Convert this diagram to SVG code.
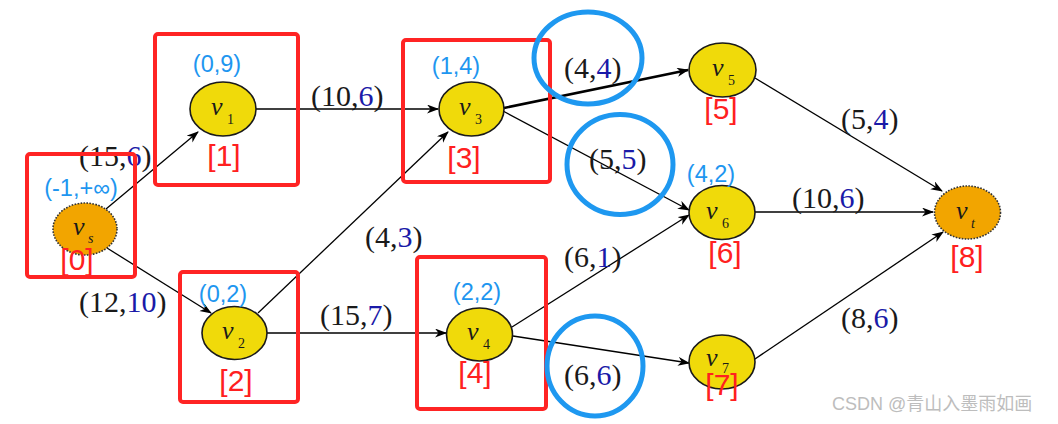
<svg xmlns="http://www.w3.org/2000/svg" width="1058" height="424" viewBox="0 0 1058 424">
<defs>
<marker id="arr" markerWidth="12" markerHeight="10" refX="11" refY="4.5" orient="auto" markerUnits="userSpaceOnUse">
<path d="M0,0 L12,4.5 L0,9 L3.5,4.5 z" fill="#000"/>
</marker>
<style>
.e{stroke:#000;stroke-width:1.3;fill:none;marker-end:url(#arr)}
.n{fill:#F0DA0A;stroke:#1a1a1a;stroke-width:1.6}
.s{fill:#F2A500;stroke:#333;stroke-width:1.6;stroke-dasharray:1.6 1.4}
.v{font-family:"Liberation Serif",serif;font-style:italic;font-size:26px;fill:#1a1a1a}
.sub{font-family:"Liberation Serif",serif;font-size:14px;fill:#1a1a1a}
.subi{font-family:"Liberation Serif",serif;font-style:italic;font-size:14px;fill:#1a1a1a}
.el{font-family:"Liberation Serif",serif;font-size:30px;fill:#1a1a1a}
.b{fill:#1a1aa8}
.nl{font-family:"Liberation Sans",sans-serif;font-size:23.5px;fill:#1E96F0;text-anchor:middle}
.ix{font-family:"Liberation Sans",sans-serif;font-size:30px;fill:#FF2020;text-anchor:middle}
.box{fill:none;stroke:#FF2424;stroke-width:4}
.c{fill:none;stroke:#1E98F0;stroke-width:5}
</style>
</defs>
<rect width="1058" height="424" fill="#fff"/>
<g id="connectors">
<line class="e" x1="106" y1="209" x2="198" y2="132"/>
<line class="e" x1="107" y1="248" x2="211" y2="313"/>
<line class="e" x1="256" y1="109" x2="438" y2="109"/>
<line class="e" x1="258" y1="313" x2="448" y2="132"/>
<line class="e" x1="267" y1="333" x2="446" y2="333"/>
<line class="e" x1="504" y1="108" x2="688" y2="70" style="stroke-width:2.6"/>
<line class="e" x1="503" y1="111" x2="689" y2="210"/>
<line class="e" x1="512" y1="327" x2="689" y2="215"/>
<line class="e" x1="513" y1="336" x2="689" y2="363"/>
<line class="e" x1="755" y1="78" x2="942" y2="191"/>
<line class="e" x1="755" y1="212" x2="933" y2="212"/>
<line class="e" x1="752" y1="361" x2="943" y2="232"/>
</g>
<g id="edge-labels">
<text class="el" x="79" y="166">(15,<tspan class="b">6</tspan>)</text>
<text class="el" x="79" y="312">(12,<tspan class="b">10</tspan>)</text>
<text class="el" x="311" y="106">(10,<tspan class="b">6</tspan>)</text>
<text class="el" x="365" y="247">(4,<tspan class="b">3</tspan>)</text>
<text class="el" x="320" y="325">(15,<tspan class="b">7</tspan>)</text>
<text class="el" x="564" y="78">(4,<tspan class="b">4</tspan>)</text>
<text class="el" x="589" y="169">(5,<tspan class="b">5</tspan>)</text>
<text class="el" x="564" y="267">(6,<tspan class="b">1</tspan>)</text>
<text class="el" x="564" y="385">(6,<tspan class="b">6</tspan>)</text>
<text class="el" x="841" y="129">(5,<tspan class="b">4</tspan>)</text>
<text class="el" x="792" y="208">(10,<tspan class="b">6</tspan>)</text>
<text class="el" x="841" y="328">(8,<tspan class="b">6</tspan>)</text>
</g>
<g id="node-vs">
<ellipse class="s" cx="85" cy="229" rx="32" ry="26"/>
<text class="v" x="73" y="235">v</text><text class="subi" x="88" y="243">s</text>
<text class="nl" x="81" y="196">(-1,+∞)</text>
<text class="ix" x="77" y="270">[0]</text>
</g>
<g id="node-v1">
<ellipse class="n" cx="223" cy="109" rx="33" ry="27"/>
<text class="v" x="211" y="115">v</text><text class="sub" x="227" y="124">1</text>
<text class="nl" x="217" y="72">(0,9)</text>
<text class="ix" x="224" y="166">[1]</text>
</g>
<g id="node-v2">
<ellipse class="n" cx="234.5" cy="333" rx="32.5" ry="26.5"/>
<text class="v" x="222" y="339">v</text><text class="sub" x="238" y="348">2</text>
<text class="nl" x="223" y="302">(0,2)</text>
<text class="ix" x="236" y="391">[2]</text>
</g>
<g id="node-v3">
<ellipse class="n" cx="471.5" cy="109" rx="32.5" ry="27"/>
<text class="v" x="459" y="115">v</text><text class="sub" x="475" y="124">3</text>
<text class="nl" x="456" y="74">(1,4)</text>
<text class="ix" x="464" y="168">[3]</text>
</g>
<g id="node-v4">
<ellipse class="n" cx="479.5" cy="334.5" rx="33" ry="26.5"/>
<text class="v" x="467" y="340">v</text><text class="sub" x="483" y="349">4</text>
<text class="nl" x="477" y="300">(2,2)</text>
<text class="ix" x="475" y="383">[4]</text>
</g>
<g id="node-v5">
<ellipse class="n" cx="722.5" cy="70" rx="33.5" ry="27"/>
<text class="v" x="712" y="76">v</text><text class="sub" x="728" y="85">5</text>
<text class="ix" x="721" y="119">[5]</text>
</g>
<g id="node-v6">
<ellipse class="n" cx="722" cy="212.5" rx="33" ry="27"/>
<text class="v" x="706" y="219">v</text><text class="sub" x="722" y="228">6</text>
<text class="nl" x="711" y="182">(4,2)</text>
<text class="ix" x="725" y="263">[6]</text>
</g>
<g id="node-v7">
<ellipse class="n" cx="722" cy="362" rx="33" ry="27"/>
<text class="v" x="706" y="366">v</text><text class="sub" x="722" y="373">7</text>
<text class="ix" x="722" y="395">[7]</text>
</g>
<g id="node-vt">
<ellipse class="s" cx="967.5" cy="212.5" rx="33" ry="26.5"/>
<text class="v" x="956" y="219">v</text><text class="subi" x="971" y="228">t</text>
<text class="ix" x="967" y="267">[8]</text>
</g>
<g id="highlights">
<rect class="box" x="27" y="154" width="108" height="123" rx="3"/>
<rect class="box" x="155" y="34" width="143" height="151" rx="3"/>
<rect class="box" x="180" y="272" width="118" height="130" rx="3"/>
<rect class="box" x="403" y="40" width="147" height="142" rx="3"/>
<rect class="box" x="417" y="257" width="129" height="152" rx="3"/>
<ellipse class="c" cx="588" cy="58" rx="54" ry="46"/>
<ellipse class="c" cx="620" cy="164.5" rx="53" ry="50"/>
<ellipse class="c" cx="595" cy="366" rx="48" ry="50"/>
</g>
<text x="832" y="410" style="font-family:'Liberation Sans','Noto Sans CJK SC',sans-serif;font-size:18px;fill:#bdbdbd">CSDN @青山入墨雨如画</text>
</svg>
